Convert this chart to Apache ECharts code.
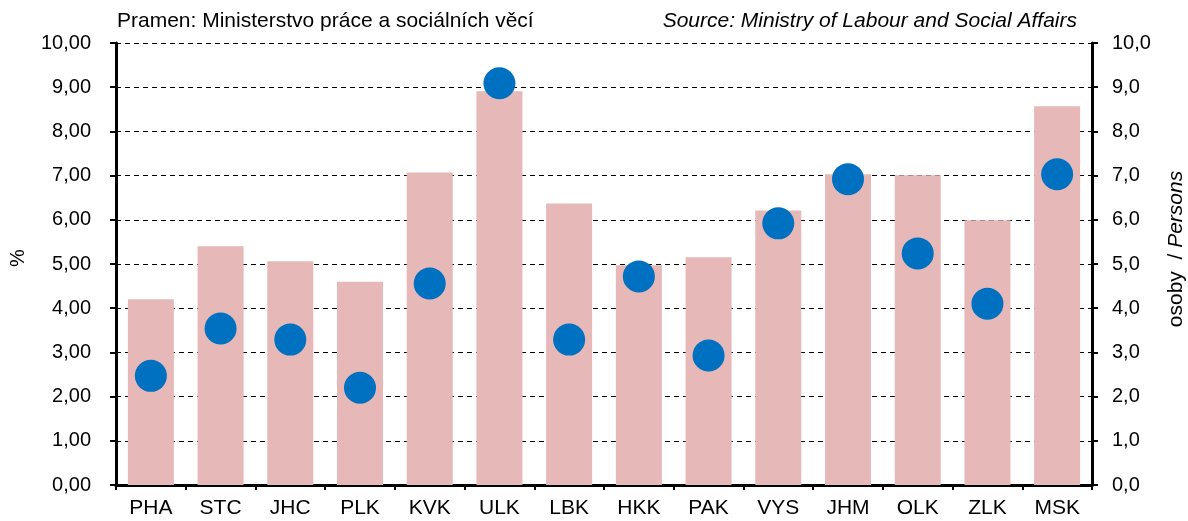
<!DOCTYPE html>
<html>
<head>
<meta charset="utf-8">
<script src="https://cdn.jsdelivr.net/npm/echarts@6/dist/echarts.min.js"></script>
<style>
html, body { margin: 0; padding: 0; background: #fff; }
#main { width: 1188px; height: 521px; }
</style>
</head>
<body>
<div id="main"></div>
<script>
// kraje
var categories = ['PHA', 'STC', 'JHC', 'PLK', 'KVK', 'ULK', 'LBK', 'HKK', 'PAK', 'VYS', 'JHM', 'OLK', 'ZLK', 'MSK'];
// sloupce - % (levá osa)
var barValues = [4.20, 5.40, 5.06, 4.60, 7.07, 8.91, 6.37, 4.97, 5.15, 6.21, 7.03, 7.01, 5.99, 8.57];
// body - osoby (pravá osa)
var dotValues = [2.47, 3.54, 3.29, 2.20, 4.56, 9.09, 3.29, 4.72, 2.93, 5.92, 6.92, 5.24, 4.10, 7.03];

var font = '"Liberation Sans", Arial, sans-serif';
var myChart = echarts.init(document.getElementById('main'));

option = {
	animation: false,
	textStyle: { fontFamily: font, color: '#000' },
	graphic: [{
		type: 'text',
		left: 117,
		top: 11,
		style: { text: 'Pramen: Ministerstvo práce a sociálních věcí', font: '21px ' + font, fill: '#000' }
	}, {
		type: 'text',
		right: 111,
		top: 11,
		style: { text: 'Source: Ministry of Labour and Social Affairs', font: 'italic 21px ' + font, fill: '#000' }
	}, {
		// název levé osy
		type: 'text',
		x: 18,
		y: 258,
		rotation: Math.PI / 2,
		style: { text: '%', font: '20px ' + font, fill: '#000', align: 'center', verticalAlign: 'middle' }
	}, {
		// název pravé osy
		type: 'text',
		x: 1176,
		y: 249,
		rotation: Math.PI / 2,
		style: {
			text: 'osoby  / {i|Persons}',
			font: '21px ' + font,
			fill: '#000',
			align: 'center',
			verticalAlign: 'middle',
			rich: { i: { fontStyle: 'italic', fontSize: 21, fontFamily: font } }
		}
	}],
	grid: {
		left: 116,
		right: 96,
		top: 43,
		bottom: 36,
		containLabel: false,
		outerBoundsMode: 'none'
	},
	xAxis: [{
		type: 'category',
		data: categories,
		axisLine: { lineStyle: { color: '#000', width: 3 } },
		axisTick: { show: true, length: 5, lineStyle: { color: '#000', width: 2 } },
		axisLabel: { color: '#000', fontSize: 21, margin: 13 }
	}, {
		type: 'category',
		position: 'top',
		data: categories,
		axisLine: { lineStyle: { color: '#000', width: 3 } },
		axisTick: { show: false },
		axisLabel: { show: false }
	}],
	yAxis: [{
		type: 'value',
		min: 0,
		max: 10,
		interval: 1,
		axisLine: { show: true, lineStyle: { color: '#000', width: 3 } },
		axisTick: { show: true, length: 6, lineStyle: { color: '#000', width: 2 } },
		axisLabel: {
			color: '#000', fontSize: 20, margin: 25,
			formatter: function (v) { return v.toFixed(2).replace('.', ','); }
		},
		splitLine: { lineStyle: { color: '#000', type: [5, 4], width: 1 } }
	}, {
		type: 'value',
		min: 0,
		max: 10,
		interval: 1,
		position: 'right',
		axisLine: { show: true, lineStyle: { color: '#000', width: 3 } },
		axisTick: { show: true, length: 6, lineStyle: { color: '#000', width: 2 } },
		axisLabel: {
			color: '#000', fontSize: 20, margin: 20,
			formatter: function (v) { return v.toFixed(1).replace('.', ','); }
		},
		splitLine: { show: false }
	}],
	series: [{
		name: '%',
		type: 'bar',
		data: barValues,
		barWidth: '66%',
		itemStyle: { color: '#E6B8B7' }
	}, {
		name: 'osoby',
		type: 'scatter',
		yAxisIndex: 1,
		data: dotValues,
		symbol: 'circle',
		symbolSize: 32,
		itemStyle: { color: '#0070C0', opacity: 1 }
	}]
};
myChart.setOption(option);
</script>
</body>
</html>
